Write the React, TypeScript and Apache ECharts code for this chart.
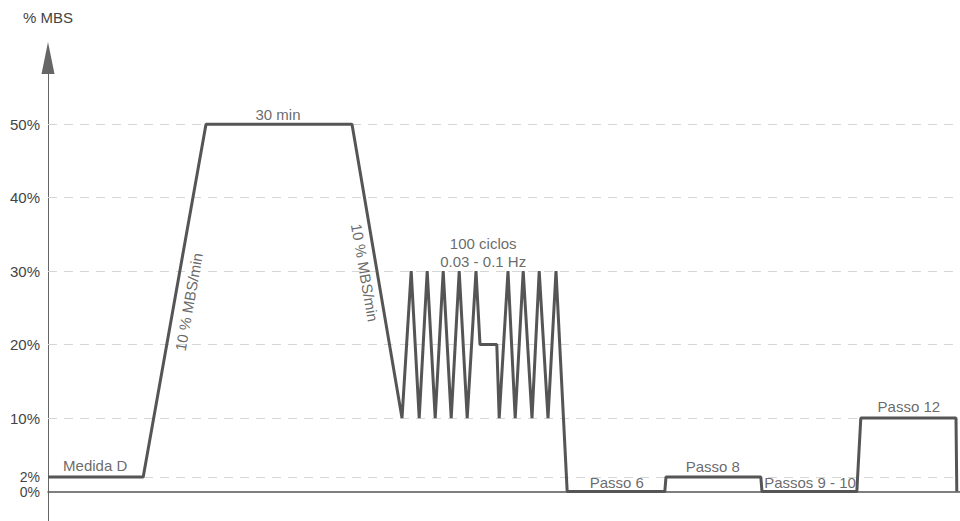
import React, { useEffect, useRef } from "react";
import * as echarts from "echarts";

// Test profile: time (arbitrary schematic units) vs load (% MBS)
const timeValues = [
  0, 11.9, 19.75, 38, 44.25,
  45.4, 46.4, 47.4, 48.4, 49.4, 50.4, 51.4, 52.4, 53.5,
  54, 56.1, 56.4,
  57.5, 58.4, 59.4, 60.5, 61.4, 62.5, 63.5,
  64.9, 77.1, 77.25, 89.1, 89.25, 101.1, 101.6, 113.5, 113.6,
];
const mbsValues = [
  2, 2, 50, 50, 10,
  30, 10, 30, 10, 30, 10, 30, 10, 30,
  20, 20, 10,
  30, 10, 30, 10, 30, 10, 30,
  0, 0, 2, 2, 0, 0, 10, 10, 0,
];

const yTickValues = [10, 20, 30, 40, 50];
const yTwoTick = [2];
const yZeroTick = [0];
const gridLineValues = [2, 10, 20, 30, 40, 50];

const annotationTexts = [
  "Medida D",
  "30 min",
  "10 % MBS/min",
  "10 % MBS/min",
  "100 ciclos",
  "0.03 - 0.1 Hz",
  "Passo 6",
  "Passo 8",
  "Passos 9 - 10",
  "Passo 12",
];
const annotationTime = [5.9, 28.75, 17.6, 39.6, 54.4, 54.4, 71.1, 83.1, 95.25, 107.6];
const annotationMbs = [3.5, 51.3, 25.8, 29.8, 33.7, 31.3, 1.3, 3.4, 1.3, 11.6];
const annotationRotate = [0, 0, 80, -80, 0, 0, 0, 0, 0, 0];

export default function App() {
  const ref = useRef<HTMLDivElement>(null);

  useEffect(() => {
    if (!ref.current) return;
    const chart = echarts.init(ref.current, null, { renderer: "svg" });
    const font = "'Liberation Sans', Arial, Helvetica, sans-serif";
    const lineData = timeValues.map((t, i) => [t, mbsValues[i]]);
    const labelData = annotationTexts.map((txt, i) => ({
      value: [annotationTime[i], annotationMbs[i]],
      name: txt,
      label: { rotate: annotationRotate[i] },
    }));
    const yMin = -4;
    const yMax = 59;
    const labelStyle = {
      formatter: "{value}%",
      fontSize: 15,
      hideOverlap: false,
      color: "#444",
      fontFamily: font,
      margin: 8,
    };
    const labelAxis = (custom: number[], extra: any) => ({
      type: "value",
      position: "left",
      min: yMin,
      max: yMax,
      axisLine: { show: false, onZero: false },
      axisTick: { show: false },
      splitLine: { show: false },
      axisLabel: { ...labelStyle, ...extra, customValues: custom },
    });

    chart.setOption({
      animation: false,
      backgroundColor: "#ffffff",
      grid: { left: 48, right: 0, top: 58, bottom: 0 },
      xAxis: {
        type: "value",
        min: 0,
        max: 114,
        axisLine: {
          show: true,
          onZero: true,
          onZeroAxisIndex: 0,
          lineStyle: { color: "#555", width: 1.5 },
        },
        axisTick: { show: false },
        axisLabel: { show: false },
        splitLine: { show: false },
      },
      yAxis: [
        {
          type: "value",
          min: yMin,
          max: yMax,
          name: "% MBS",
          nameLocation: "end",
          nameGap: 33,
          nameTextStyle: { fontSize: 15, color: "#444", fontFamily: font, align: "center" },
          axisLine: {
            show: true,
            onZero: false,
            symbol: ["none", "triangle"],
            symbolSize: [13, 32],
            lineStyle: { color: "#666", width: 1 },
          },
          axisTick: { show: false },
          splitLine: { show: false },
          axisLabel: { show: false },
        },
        labelAxis(yTickValues, {}),
        labelAxis(yTwoTick, { fontSize: 14, lineHeight: 13, padding: [0, 0, 3, 0] }),
        labelAxis(yZeroTick, { fontSize: 14, lineHeight: 13, padding: [3, 0, 0, 0] }),
      ],
      series: [
        {
          type: "line",
          z: 3,
          data: lineData,
          symbol: "none",
          lineStyle: { color: "#555", width: 3 },
          markLine: {
            z: 1,
            silent: true,
            symbol: "none",
            label: { show: false },
            lineStyle: { color: "#d6d6d6", width: 1, type: [9, 7] },
            data: gridLineValues.map((v) => ({ yAxis: v })),
          },
        },
        {
          type: "scatter",
          z: 4,
          symbolSize: 0,
          data: labelData,
          label: {
            show: true,
            position: "inside",
            formatter: (p: any) => p.name,
            fontSize: 15,
            color: "#444",
            fontFamily: font,
          },
        },
      ],
    });
    return () => chart.dispose();
  }, []);

  return (
    <div
      ref={ref}
      style={{ position: "absolute", left: 0, top: 0, width: 960, height: 521 }}
    />
  );
}
